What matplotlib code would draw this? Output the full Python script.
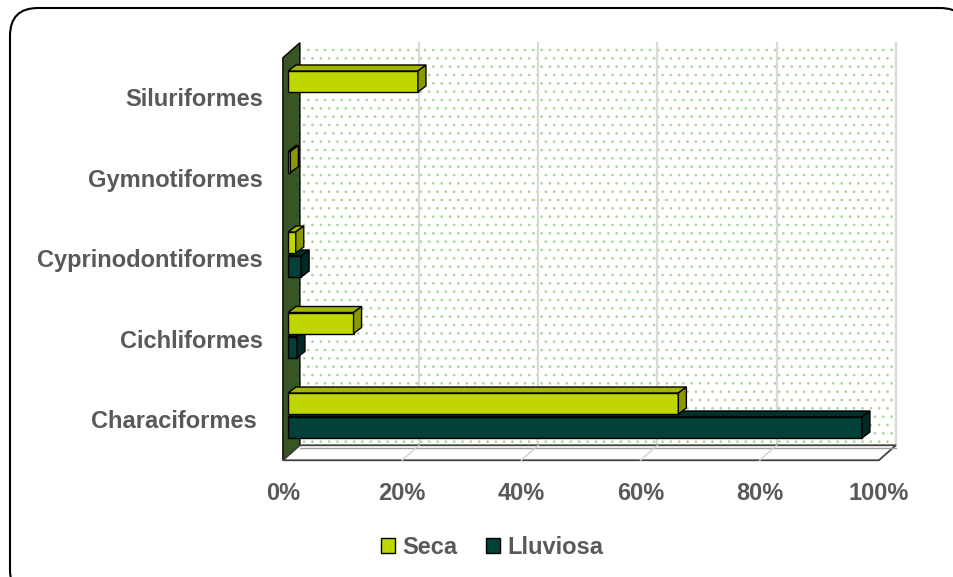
import matplotlib.pyplot as plt
from matplotlib.patches import Polygon, FancyBboxPatch, Patch

plt.rcParams['font.family'] = ['Liberation Sans', 'DejaVu Sans']
plt.rcParams['hatch.linewidth'] = 0.7

# Datos (porcentaje de individuos por orden)
ordenes = ['Characiformes ', 'Cichliformes', 'Cyprinodontiformes', 'Gymnotiformes', 'Siluriformes']
seca = [65.5, 11.0, 1.3, 0.4, 21.8]
lluviosa = [96.3, 1.5, 2.2, 0.0, 0.0]
ticks = [0, 20, 40, 60, 80, 100]
tick_labels = ['0%', '20%', '40%', '60%', '80%', '100%']

col_seca = '#c0d600'
col_seca_top = '#a3b500'
col_seca_side = '#8a9900'
col_llu = '#02403a'
col_llu_top = '#012e29'
col_llu_side = '#012a25'
col_wall = '#375623'
col_text = '#595959'

# escala en pixeles
SX = 5.96   # px por %
SY = 80.5   # px por categoria
X0 = 288
Y0 = 415.5

fig = plt.figure(figsize=(9.54, 5.77), dpi=100)

# marco redondeado
bg = fig.add_axes([0, 0, 1, 1])
bg.set_xlim(0, 954)
bg.set_ylim(577, 0)
bg.axis('off')
bg.add_patch(FancyBboxPatch((10, 8), 958, 590, boxstyle='round,pad=0,rounding_size=28',
                            fc='white', ec='black', lw=1.5))

ax = fig.add_axes([0, 0, 1, 1])
ax.set_xlim(-X0 / SX, (954 - X0) / SX)
ax.set_ylim((Y0 - 577) / SY, Y0 / SY)
ax.axis('off')

# profundidad de las paredes y barras
DX = 17 / SX
DY = 15 / SY
fx, fy = -0.3 * DX, -0.3 * DY
bx, by = 0.7 * DX, 0.7 * DY
bdx = 8 / SX
bdy = 6 / SY
ylo, yhi = -0.5, 4.5

# pared del fondo con puntos
ax.add_patch(Polygon([(bx, ylo + by), (100 + bx, ylo + by), (100 + bx, yhi + by), (bx, yhi + by)],
                     closed=True, fc='white', ec='#acd3a0', lw=0, hatch='..', zorder=0))
for t in ticks[1:]:
    ax.plot([t + bx, t + bx], [ylo + by, yhi + by], color='#d9d9d9', lw=1.6, zorder=1)

# pared izquierda
ax.add_patch(Polygon([(fx, ylo + fy), (bx, ylo + by), (bx, yhi + by), (fx, yhi + fy)],
                     closed=True, fc=col_wall, ec='black', lw=1, zorder=1))

# piso
ax.add_patch(Polygon([(fx, ylo + fy), (100 + fx, ylo + fy), (100 + bx, ylo + by), (bx, ylo + by)],
                     closed=True, fc='white', ec='#404040', lw=1.3, zorder=1))
ax.plot([bx, 100 + bx], [ylo + by - 0.03, ylo + by - 0.03], color='#a0a0a0', lw=1, zorder=1)
for t in ticks[1:-1]:
    ax.plot([t + fx, t + bx], [ylo + fy, ylo + by], color='#d0d0d0', lw=1, zorder=1)


def barra3d(yc, v, h, c_front, c_top, c_side, z):
    if v <= 0:
        return
    ax.barh(yc, v, height=h, color=c_front, edgecolor='black', lw=1, zorder=z)
    top = [(0, yc + h / 2), (v, yc + h / 2), (v + bdx, yc + h / 2 + bdy), (bdx, yc + h / 2 + bdy)]
    side = [(v, yc - h / 2), (v + bdx, yc - h / 2 + bdy), (v + bdx, yc + h / 2 + bdy), (v, yc + h / 2)]
    ax.add_patch(Polygon(top, closed=True, fc=c_top, ec='black', lw=1, zorder=z))
    ax.add_patch(Polygon(side, closed=True, fc=c_side, ec='black', lw=1, zorder=z))


h = 21 / SY
off = 12 / SY
for i in range(len(ordenes)):
    barra3d(i - off, lluviosa[i], h, col_llu, col_llu_top, col_llu_side, 3 + i * 2)
    barra3d(i + off, seca[i], h, col_seca, col_seca_top, col_seca_side, 4 + i * 2)

# etiquetas
for i, nombre in enumerate(ordenes):
    ax.text((263 - X0) / SX, i - 0.08, nombre, ha='right', va='center',
            fontsize=17, fontweight='bold', color=col_text)
for t, lab in zip(ticks, tick_labels):
    ax.text(t + fx, (Y0 - 493) / SY, lab, ha='center', va='center',
            fontsize=17, fontweight='bold', color=col_text)

handles = [Patch(fc=col_seca, ec='black', lw=1), Patch(fc=col_llu, ec='black', lw=1)]
fig.legend(handles, ['Seca', 'Lluviosa'], loc='center', bbox_to_anchor=(492 / 954, 1 - 547 / 577),
           ncol=2, frameon=False, prop=dict(weight='bold', size=17), labelcolor=col_text,
           handlelength=0.6, handleheight=0.6, handletextpad=0.3, columnspacing=1.2)

fig.savefig('out.png', dpi=100)
